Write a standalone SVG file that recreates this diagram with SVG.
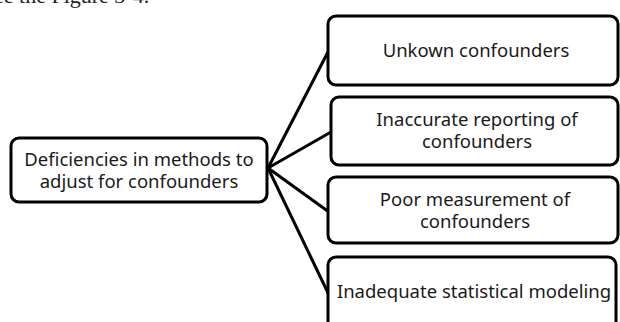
<svg xmlns="http://www.w3.org/2000/svg" width="620" height="322" viewBox="0 0 620 322">
<style>
.box{fill:#fff;stroke:#000;stroke-width:3}
.lbl{font-family:"Noto Sans","Open Sans",sans-serif;font-size:18.5px;fill:#1a1a1a;text-anchor:middle}
.con{stroke:#000;stroke-width:3;fill:none}
.cap{font-family:"Liberation Serif",serif;font-size:22px;fill:#222}
</style>
<rect width="620" height="322" fill="#fff"/>
<text class="cap" x="-6" y="3">ee the Figure 3-4.</text>
<g id="connectors">
<line class="con" x1="268" y1="168" x2="329" y2="50"/>
<line class="con" x1="268" y1="168" x2="331" y2="132"/>
<line class="con" x1="268" y1="168" x2="329" y2="212"/>
<line class="con" x1="268" y1="168" x2="329" y2="295"/>
</g>
<g id="root">
<rect class="box" x="11" y="138" width="256" height="64" rx="8"/>
<text class="lbl" x="139" y="166">Deficiencies in methods to</text>
<text class="lbl" x="139" y="188">adjust for confounders</text>
</g>
<g id="n1">
<rect class="box" x="328" y="16" width="290" height="69" rx="8"/>
<text class="lbl" x="476" y="57">Unkown confounders</text>
</g>
<g id="n2">
<rect class="box" x="331" y="97" width="287" height="68" rx="8"/>
<text class="lbl" x="477" y="126">Inaccurate reporting of</text>
<text class="lbl" x="477" y="148">confounders</text>
</g>
<g id="n3">
<rect class="box" x="328" y="177" width="290" height="66" rx="8"/>
<text class="lbl" x="475" y="206">Poor measurement of</text>
<text class="lbl" x="475" y="228">confounders</text>
</g>
<g id="n4">
<rect class="box" x="328" y="257" width="288" height="80" rx="8"/>
<text class="lbl" x="474" y="298">Inadequate statistical modeling</text>
</g>
</svg>
